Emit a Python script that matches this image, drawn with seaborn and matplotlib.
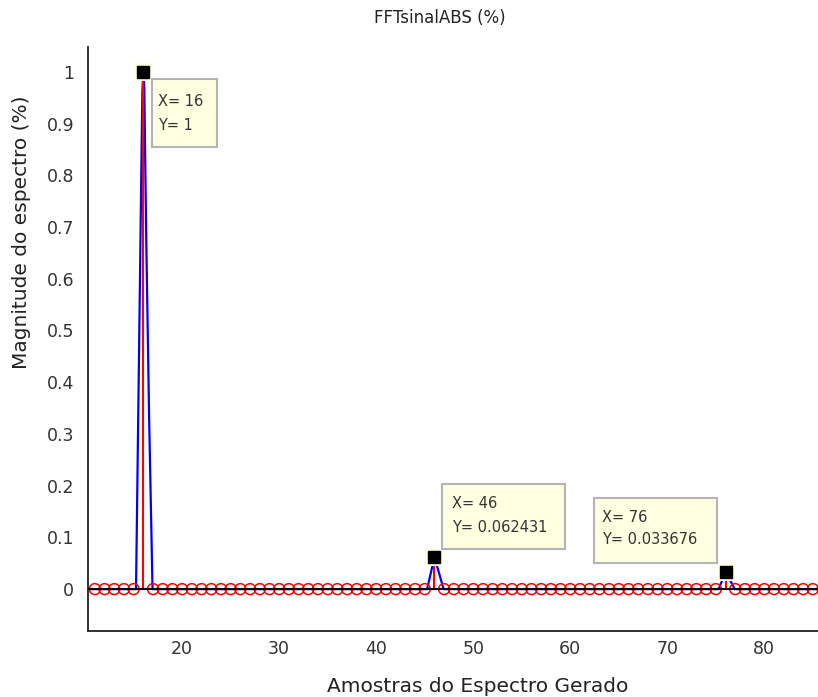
import matplotlib
matplotlib.use("Agg")
import matplotlib.pyplot as plt
import seaborn as sns
import pandas as pd
from matplotlib.patches import Rectangle

# ---- data ----
sample_index = list(range(11, 87))
magnitude = [
    0, 0, 0, 0, 0, 1, 0, 0, 0, 0,          # 11-20
    0, 0, 0, 0, 0, 0, 0, 0, 0, 0,          # 21-30
    0, 0, 0, 0, 0, 0, 0, 0, 0, 0,          # 31-40
    0, 0, 0, 0, 0, 0.062431, 0, 0, 0, 0,   # 41-50
    0, 0, 0, 0, 0, 0, 0, 0, 0, 0,          # 51-60
    0, 0, 0, 0, 0, 0, 0, 0, 0, 0,          # 61-70
    0, 0, 0, 0, 0, 0.033676, 0, 0, 0, 0,   # 71-80
    0, 0, 0, 0, 0, 0,                      # 81-86
]
# fine-resolution (interpolated) spectrum, blue trace
blue_x = [10.0, 15.25, 15.9, 16.0, 16.1, 16.3, 16.6, 16.95,
          45.25, 46.0, 46.95, 75.3, 76.0, 76.95, 86.0]
blue_y = [0, 0, 0.96, 1.0, 0.97, 0.68, 0.33, 0,
          0, 0.062, 0, 0, 0.034, 0, 0]
# data tips
tip_x = [16, 46, 76]
tip_y = [1, 0.062431, 0.033676]
tip_labels = ["X= 16\nY= 1", "X= 46\nY= 0.062431", "X= 76\nY= 0.033676"]

x_ticks = [20, 30, 40, 50, 60, 70, 80]
y_ticks = [0, 0.1, 0.2, 0.3, 0.4, 0.5, 0.6, 0.7, 0.8, 0.9, 1]
y_ticklabels = ["0", "0.1", "0.2", "0.3", "0.4", "0.5", "0.6", "0.7", "0.8", "0.9", "1"]

# ---- figure ----
sns.set_style("white")
plt.rcParams["font.family"] = ["DejaVu Sans"]

W, H = 818, 697
fig = plt.figure(figsize=(W / 100, H / 100), dpi=100)
ax_left, ax_right, ax_top, ax_bot = 88, 818, 47, 630.5
ax = fig.add_axes([ax_left / W, 1 - ax_bot / H, (ax_right - ax_left) / W, (ax_bot - ax_top) / H])

spec = pd.DataFrame({"x": sample_index, "y": magnitude})
fine = pd.DataFrame({"x": blue_x, "y": blue_y})

sns.lineplot(data=fine, x="x", y="y", sort=False, estimator=None, ax=ax,
             color="#0000FF", linewidth=1.6, zorder=2)
ax.vlines(spec["x"], 0, spec["y"], colors="#FF0000", linewidth=1.5, zorder=3)
sns.scatterplot(data=spec, x="x", y="y", ax=ax, marker="o", s=62,
                facecolor="none", edgecolor="#FF0000", linewidth=1.1, zorder=3)
ax.axhline(0, color="black", linewidth=1.5, zorder=4)

# data tip markers
ax.plot(tip_x, tip_y, linestyle="none", marker="s", markersize=13.5,
        color="#FFFFE1", markeredgewidth=0, zorder=5, clip_on=False)
ax.plot(tip_x, tip_y, linestyle="none", marker="s", markersize=9,
        color="black", zorder=6, clip_on=False)

ax.set_xlim(10.3, 85.53)
ax.set_ylim(-0.080, 1.048)
ax.set_xticks(x_ticks)
ax.set_yticks(y_ticks)
ax.set_yticklabels(y_ticklabels)
ax.tick_params(direction="in", length=6, width=1.2, labelsize=12.5, colors="black",
               labelcolor="#333333")
ax.tick_params(axis="y", pad=10)
ax.tick_params(axis="x", pad=7)
for s in ["top", "right"]:
    ax.spines[s].set_visible(False)
for s in ["left", "bottom"]:
    ax.spines[s].set_color("#222222")
    ax.spines[s].set_linewidth(1.3)

ax.set_xlabel("")
ax.set_ylabel("")
fig.text(478 / W, 1 - 687 / H, "Amostras do Espectro Gerado", ha="center", va="center",
         fontsize=14.5, color="#222222")
fig.text(22 / W, 1 - 232 / H, "Magnitude do espectro (%)", ha="center", va="center",
         rotation=90, fontsize=14.5, color="#222222")
fig.text(440 / W, 1 - 18 / H, "FFTsinalABS (%)", ha="center", va="center",
         fontsize=12, color="#222222")

# data tip boxes (pixel layout)
boxes = [(151.7, 79.3, 217.3, 146.7, 158, 101.7, 125),
         (441.7, 484.0, 565.0, 549.3, 451.7, 503.3, 527.3),
         (594.0, 498.3, 717.3, 562.7, 601.7, 518.0, 540.0)]
for (x0, y0, x1, y1, tx, ly1, ly2), lab in zip(boxes, tip_labels):
    fig.patches.append(Rectangle((x0 / W, 1 - y1 / H), (x1 - x0) / W, (y1 - y0) / H,
                                 transform=fig.transFigure, facecolor="#FFFFE1",
                                 edgecolor="#B4B4B4", linewidth=1.5, zorder=10))
    l1, l2 = lab.split("\n")
    fig.text(tx / W, 1 - ly1 / H, l1, ha="left", va="center", fontsize=10.5,
             color="#333333", zorder=11)
    fig.text(tx / W, 1 - ly2 / H, l2, ha="left", va="center", fontsize=10.5,
             color="#333333", zorder=11)

fig.savefig("out.png", dpi=100)
